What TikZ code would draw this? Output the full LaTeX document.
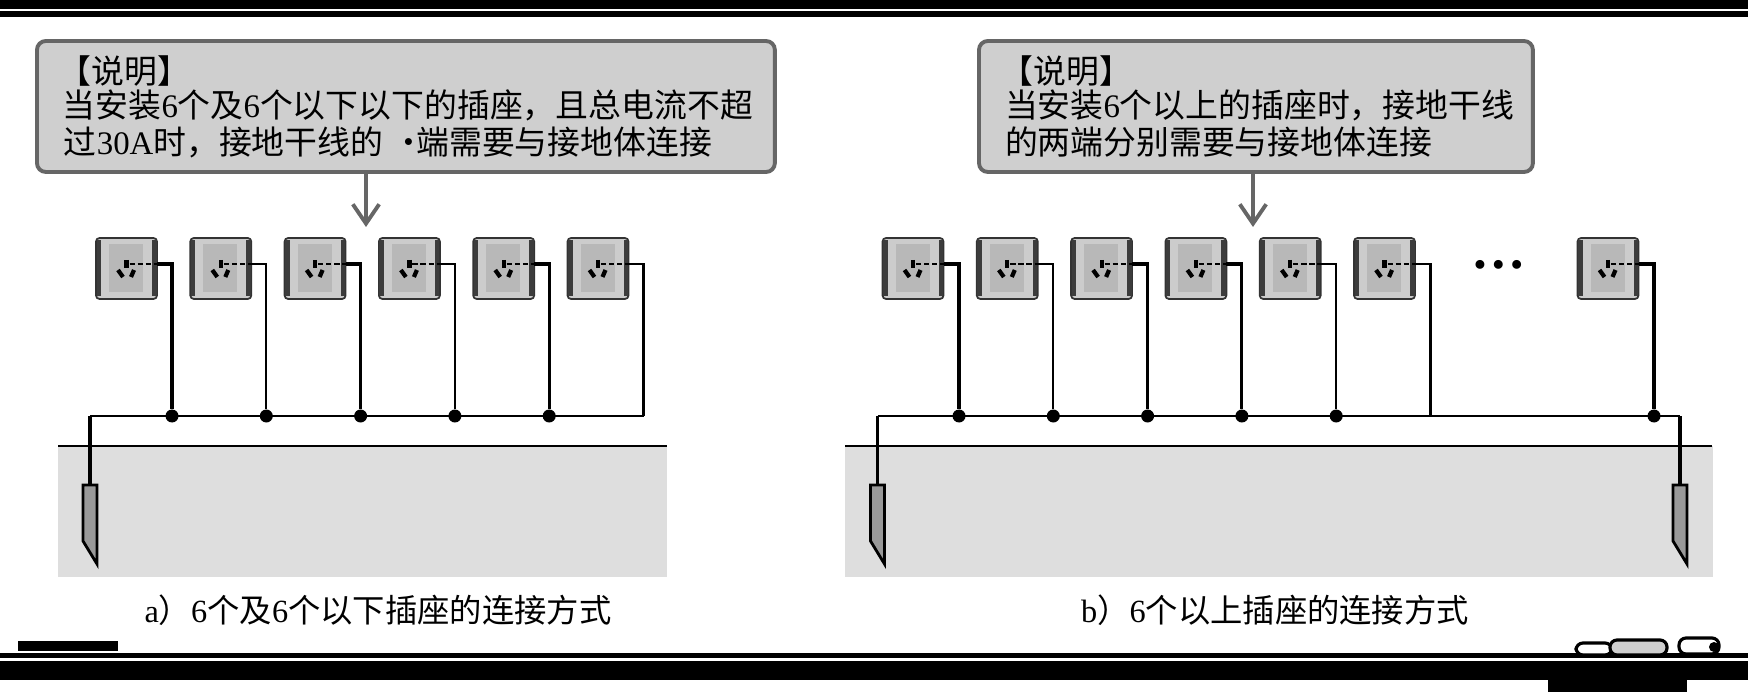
\documentclass[tikz,border=0pt]{standalone}
\usepackage{fontspec}
\setmainfont{Liberation Serif}
\newfontfamily\cjk{Noto Sans CJK SC}
\newcommand{\zh}[1]{{\cjk #1}}
\usetikzlibrary{arrows.meta}
\definecolor{notegray}{HTML}{CFCFCF}
\definecolor{edgegray}{HTML}{666666}
\definecolor{soilgray}{HTML}{DEDEDE}
\definecolor{rodgray}{HTML}{999999}
\definecolor{platelight}{HTML}{CCCCCC}
\definecolor{platedark}{HTML}{B8B8B8}
\definecolor{plateband}{HTML}{3C3C3C}
\tikzset{
  notebox/.style={draw=edgegray,fill=notegray,line width=2.2pt,rounded corners=5pt,
    align=left,anchor=north west,inner xsep=0pt,inner ysep=0pt,outer sep=0pt,
    font=\fontsize{18.7}{21}\selectfont},
  notearrow/.style={draw=edgegray,line width=2.2pt,-{Straight Barb[length=11pt,width=15pt]}},
  plate/.style={draw=black!80,fill=platelight,line width=1pt,rounded corners=2pt,
    minimum width=1.22cm,minimum height=1.22cm,inner sep=0pt,outer sep=0pt},
  wirethick/.style={line width=1.8pt},
  wirethin/.style={line width=1.35pt},
  junction/.style={circle,fill=black,minimum size=7.4pt,inner sep=0pt},
  caption/.style={font=\fontsize{18.4}{21}\selectfont},
  rod/.style={draw=black,fill=rodgray,line width=1.6pt,miter limit=20},
  chalk/.style={line width=1.8pt,rounded corners=4pt},
  socket/.pic={
    \node[plate] (body) at (0,0) {};
    \fill[plateband] (-30,-28) rectangle (-25.5,28);
    \fill[plateband] (25.5,-28) rectangle (30,28);
    \fill[platedark] (-17.5,-24) rectangle (16.5,24);
    \draw[line width=2.4pt] (0,-8.5) -- (0,-0.5);
    \draw[line width=2.4pt] (-8.5,1.5) -- (-3.5,8.5);
    \draw[line width=2.4pt] (7.5,1.5) -- (4.5,8.5);
    \draw[line width=1.4pt,dash pattern=on 3pt off 1.6pt] (3,-4.5) -- (30.5,-4.5);
    \coordinate (tap) at (30.5,-4.5);
  }
}
\begin{document}
\begin{tikzpicture}[x=0.02cm,y=-0.02cm]
    \useasboundingbox (0,0) rectangle (1748,692);

    % Page bars
    \fill[black] (0,0) rectangle (1748,9.5);
    \fill[black] (0,11) rectangle (1748,17);
    \fill[black] (18,641) rectangle (118,651);
    \fill[black] (0,653) rectangle (1748,658);
    \fill[black] (0,661) rectangle (1748,680);
    \fill[black] (1548,680) rectangle (1687,692);

    % Chalk at the lower right
    \draw[chalk,fill=white] (1576,643) rectangle (1612,655);
    \draw[chalk,fill=notegray] (1610,640) rectangle (1667,655);
    \draw[chalk,fill=white] (1679,638) rectangle (1719,654);
    \fill[black] (1714,647) circle (5);

    % Soil
    \fill[soilgray] (58,446) rectangle (667,577);
    \fill[soilgray] (845,446) rectangle (1713,577);
    \draw[wirethin] (58,446) -- (667,446);
    \draw[wirethin] (845,446) -- (1712,446);

    % Notes
    \node[notebox,text width=14.76cm,minimum height=2.62cm] (noteA) at (37,41) {%
      \hspace*{0.43cm}\zh{【说明】}\\[-1.5pt]
      \hspace*{0.52cm}\zh{当安装}6\zh{个及}6\zh{个以下以下的插座，且总电流不超}\\
      \hspace*{0.54cm}\zh{过}30A\zh{时，接地干线的}\hspace*{0.18cm}\zh{·}\hspace*{-0.18cm}\zh{端需要与接地体连接}};
    \node[notebox,text width=11.08cm,minimum height=2.62cm] (noteB) at (979,41) {%
      \hspace*{0.43cm}\zh{【说明】}\\[-1.5pt]
      \hspace*{0.52cm}\zh{当安装}6\zh{个以上的插座时，接地干线}\\
      \hspace*{0.52cm}\zh{的两端分别需要与接地体连接}};

    \coordinate (arrowA) at (366,227);
    \coordinate (arrowB) at (1253,227);
    \draw[notearrow] (arrowA |- noteA.south) -- (arrowA);
    \draw[notearrow] (arrowB |- noteB.south) -- (arrowB);

    % Sockets a
    \foreach \i in {1,...,6} {
      \pgfmathsetmacro{\x}{126.5+94.3*(\i-1)}
      \pic (sa\i) at (\x,268.5) {socket};
    }
    \foreach \i in {1,...,5} {
      \pgfmathsetmacro{\x}{172+94.3*(\i-1)}
      \node[junction] (ja\i) at (\x,416) {};
    }
    \coordinate (ja6) at (643.5,416);
    \coordinate (rodAtop) at (90,485);
    \coordinate (busA) at (90,416);
    \foreach \i/\w in {1/wirethick,2/wirethin,3/wirethick,4/wirethin,5/wirethick,6/wirethin}
      \draw[\w] (sa\i tap) -| (ja\i);
    \draw[wirethin] (busA) -- (ja6);
    \draw[wirethick] (rodAtop) -- (busA);

    % Rod a
    \draw[rod] (83,485) -- (97,485) -- (97,564) -- (83,541) -- cycle;

    % Sockets b
    \foreach \i in {1,...,6} {
      \pgfmathsetmacro{\x}{913+94.3*(\i-1)}
      \pic (sb\i) at (\x,268.5) {socket};
    }
    \pic (sb7) at (1608,268.5) {socket};
    \foreach \i in {1,...,5} {
      \pgfmathsetmacro{\x}{959+94.3*(\i-1)}
      \node[junction] (jb\i) at (\x,416) {};
    }
    \coordinate (jb6) at (1430.5,416);
    \node[junction] (jb7) at (1654,416) {};
    \coordinate (rodBtop) at (877.5,485);
    \coordinate (rodCtop) at (1680,485);
    \coordinate (busB) at (877.5,416);
    \coordinate (busC) at (1680,416);
    \foreach \i/\w in {1/wirethick,2/wirethin,3/wirethick,4/wirethick,5/wirethin,6/wirethin,7/wirethick}
      \draw[\w] (sb\i tap) -| (jb\i);
    \draw[wirethin] (busB) -- (busC);
    \draw[wirethick] (rodBtop) -- (busB);
    \draw[wirethick] (rodCtop) -- (busC);

    % Rods b
    \draw[rod] (870.5,485) -- (884.5,485) -- (884.5,564) -- (870.5,541) -- cycle;
    \draw[rod] (1673,485) -- (1687,485) -- (1687,564) -- (1673,541) -- cycle;

    \node[font=\bfseries\fontsize{31}{31}\selectfont] (moredots) at (1499,265) {…};

    % Captions
    \node[caption] (capA) at (378,610) {a\zh{）}6\zh{个及}6\zh{个以下插座的连接方式}};
    \node[caption] (capB) at (1275,610) {b\zh{）}6\zh{个以上插座的连接方式}};
\end{tikzpicture}
\end{document}
